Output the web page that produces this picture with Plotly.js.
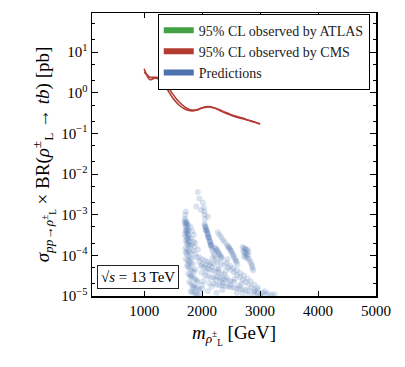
<!DOCTYPE html>
<html>
<head>
<meta charset="utf-8">
<script src="https://cdn.plot.ly/plotly-3.0.1.min.js"></script>
<style>html,body{margin:0;padding:0;background:#fff;}#chart{width:405px;height:367px;}</style>
</head>
<body>
<div id="chart"></div>
<script>
// CMS 95% CL observed limits (two curves)
const cmsMassA = [1000,1050,1100,1150,1200,1300,1400,1500,1600,1700,1800,1900,2000,2100,2200,2300,2400,2500,2600,2700,2800,2900,3000];
const cmsXsecA = [3.9,2.6,2.1,2.2,2.3,1.9,1.2,0.72,0.50,0.40,0.36,0.37,0.43,0.46,0.43,0.37,0.32,0.28,0.25,0.23,0.21,0.19,0.17];
const cmsMassB = [1000,1050,1100,1150,1200,1300,1400,1500,1600,1700,1800,1900,2000,2100,2200,2300,2400,2500,2600,2700,2800,2900,3000];
const cmsXsecB = [3.2,2.8,2.4,2.4,2.4,2.2,1.5,0.9,0.60,0.45,0.38,0.38,0.42,0.45,0.43,0.38,0.33,0.29,0.26,0.24,0.21,0.19,0.17];

// ATLAS observed (not visible in range)
const atlasMass = [null];
const atlasXsec = [null];

// Prediction scatter, by cluster
const s1Mass = [1700,1715,1730,1745,1760,1705,1720,1735,1750,1765,1710,1725,1740,1755,1770,1700,1720,1740,1760,1780,1715,1735,1755,1775,1790,1720,1710,1695,1725,1745,1765];
const s1Xsec = [8.0e-4,7.2e-4,6.6e-4,6.0e-4,5.5e-4,5.8e-4,5.2e-4,4.8e-4,4.4e-4,4.0e-4,4.2e-4,3.8e-4,3.5e-4,3.2e-4,3.0e-4,3.3e-4,2.9e-4,2.6e-4,2.4e-4,2.2e-4,2.3e-4,2.0e-4,1.9e-4,1.8e-4,1.7e-4,1.2e-3,1.0e-3,6.5e-4,6.2e-4,3.9e-4,2.7e-4];
const tailMass = [1710,1740,1770,1800,1730,1760,1790,1820,1720,1750,1780,1810,1840,1740,1770,1800,1830,1860,1760,1790,1820,1850,1880,1910,1780,1810,1840,1870,1900,1930,1800,1830,1860,1890,1920,1950,1720,1760,1800,1840,1880,1920,1960,2000];
const tailXsec = [1.5e-4,1.4e-4,1.3e-4,1.2e-4,1.1e-4,1.0e-4,9e-5,8.5e-5,8e-5,7.5e-5,7e-5,6.5e-5,6e-5,5.5e-5,5e-5,4.6e-5,4.2e-5,3.9e-5,3.6e-5,3.3e-5,3.0e-5,2.8e-5,2.6e-5,2.4e-5,2.2e-5,2.0e-5,1.8e-5,1.7e-5,1.6e-5,1.5e-5,1.3e-5,1.25e-5,1.2e-5,1.15e-5,1.1e-5,1.05e-5,1.2e-4,6.0e-5,3.0e-5,1.6e-5,4.5e-5,2.2e-5,1.4e-5,1.9e-5];
const c2Mass = [1800,1830,1860,1810,1850,1820,1870,1840,1880,1925,1950,2010,1900,2040,2100,1980,2030,2040,2050,1900,1950,1880,1930];
const c2Xsec = [5e-4,4e-4,3.2e-4,2.6e-4,2.2e-4,1.8e-4,1.6e-4,1.3e-4,1.1e-4,3.6e-3,2.5e-3,2e-3,1.6e-3,1.2e-3,9e-4,1.3e-3,1.5e-3,1.0e-3,8e-4,9e-5,7e-5,2.0e-4,1.4e-4];
const s2Mass = [2040,2050,2060,2070,2080,2090,2100,2110,2120,2130,2140,2150,2160,2170,2055,2075,2095,2115,2135,2155,2180,2200,2220,2240,2065,2105,2145];
const s2Xsec = [6e-4,5.4e-4,4.9e-4,4.4e-4,4.0e-4,3.6e-4,3.2e-4,2.9e-4,2.6e-4,2.3e-4,2.1e-4,1.9e-4,1.7e-4,1.5e-4,5.0e-4,4.1e-4,3.4e-4,2.7e-4,2.2e-4,1.8e-4,1.3e-4,1.1e-4,9.5e-5,8e-5,4.2e-4,2.8e-4,1.75e-4];
const s3Mass = [2220,2240,2260,2280,2300,2320,2340,2250,2290,2330];
const s3Xsec = [1.55e-4,1.45e-4,1.35e-4,1.2e-4,1.05e-4,9.5e-5,8.5e-5,1.3e-4,1.1e-4,9e-5];
const s4Mass = [2270,2300,2330,2360,2390,2430,2450,2470,2490,2510,2530,2550,2570,2590,2610,2460,2500,2540,2580];
const s4Xsec = [3.7e-4,3.2e-4,2.8e-4,2.4e-4,2.1e-4,1.8e-4,1.65e-4,1.5e-4,1.35e-4,1.2e-4,1.05e-4,9e-5,8e-5,7e-5,6e-5,1.55e-4,1.3e-4,1.0e-4,7.5e-5];
const s5Mass = [2700,2720,2740,2760,2780,2800,2710,2730,2750,2770,2790,2720,2750,2780,2810,2830,2850,2860,2870,2880];
const s5Xsec = [1.6e-4,1.5e-4,1.45e-4,1.4e-4,1.35e-4,1.25e-4,1.25e-4,1.2e-4,1.1e-4,1.05e-4,1.0e-4,9.5e-5,9e-5,8.5e-5,8e-5,7e-5,6.2e-5,5.5e-5,4.8e-5,4.3e-5];
const lowMass = [1950,2000,2050,2100,2150,2200,1980,2030,2080,2130,2180,2230,2280,2330,2380,2050,2100,2150,2200,2250,2300,2350,2400,2450,2500,2550,2200,2250,2300,2350,2400,2450,2500,2550,2600,2650,2700,2750,2800,2600,2700,2800,2900,3000,3050,3100,3150,3200,3250,2000,2100,2250,2350,2020,2120,2170,2270,2320,2420];
const lowXsec = [9e-5,8e-5,7.5e-5,7e-5,6.5e-5,6e-5,5.5e-5,5e-5,4.8e-5,4.5e-5,4.2e-5,4.0e-5,3.8e-5,3.6e-5,3.4e-5,3.2e-5,3.0e-5,2.9e-5,2.8e-5,3.0e-5,2.8e-5,2.6e-5,2.5e-5,2.4e-5,2.3e-5,2.2e-5,2.0e-5,1.9e-5,1.85e-5,1.8e-5,1.75e-5,1.7e-5,1.65e-5,1.6e-5,1.55e-5,1.5e-5,1.45e-5,1.4e-5,1.35e-5,1.2e-5,1.15e-5,1.1e-5,1.1e-5,1.05e-5,1.2e-5,1.1e-5,1.15e-5,1.05e-5,1.1e-5,1.5e-5,1.3e-5,1.2e-5,1.4e-5,2.3e-5,2.1e-5,5.2e-5,4.6e-5,2.4e-5,2.9e-5];
const fillMass = [2000,2060,2120,2180,2260,2320,2380,2440,2160,2240,2360,2480,2560,2640,2680,2900,2960,3080,1990,2070,2290,2410];
const fillXsec = [6.0e-5,5.8e-5,5.6e-5,8.5e-5,6.8e-5,6.4e-5,5.8e-5,8.0e-5,1.7e-5,2.5e-5,2.1e-5,1.9e-5,2.6e-5,1.8e-5,2.0e-5,1.25e-5,1.4e-5,1.3e-5,3.8e-5,4.0e-5,4.8e-5,4.2e-5];
const bandMass = [2450,2500,2550,2600,2650,2700,2750,2800,2850,2900,2950,3000,2420,2480,2540,2600,2660,2720,2780,2840,2900,2960];
const bandXsec = [5e-5,4.4e-5,3.8e-5,3.3e-5,2.9e-5,2.5e-5,2.2e-5,1.9e-5,1.6e-5,1.4e-5,1.2e-5,1.05e-5,6.5e-5,5.6e-5,4.9e-5,4.3e-5,3.7e-5,3.2e-5,2.7e-5,2.3e-5,1.9e-5,1.6e-5];

const predMass = [].concat(s1Mass, tailMass, c2Mass, s2Mass, s3Mass, s4Mass, s5Mass, lowMass, fillMass, bandMass);
const predXsec = [].concat(s1Xsec, tailXsec, c2Xsec, s2Xsec, s3Xsec, s4Xsec, s5Xsec, lowXsec, fillXsec, bandXsec);

// axis ticks
const xTicks = [1000, 2000, 3000, 4000, 5000];
const yTickVals = [1e-5, 1e-4, 1e-3, 1e-2, 1e-1, 1, 10];
const yTickText = ['10<sup>−5</sup>','10<sup>−4</sup>','10<sup>−3</sup>','10<sup>−2</sup>','10<sup>−1</sup>','10<sup>0</sup>','10<sup>1</sup>'];

const legendNames = ['95% CL observed by ATLAS', '95% CL observed by CMS', 'Predictions'];
const cGreen = '#45a244', cRed = '#b23b32', cBlue = '#4c72b0';
const serif = 'Liberation Serif';

const traces = [
  {x: predMass, y: predXsec, type: 'scatter', mode: 'markers', showlegend: false,
   marker: {color: cBlue, size: 6, opacity: 0.2, line: {width: 0}}},
  {x: cmsMassA, y: cmsXsecA, type: 'scatter', mode: 'lines', showlegend: false,
   line: {color: cRed, width: 1.6, shape: 'spline'}},
  {x: cmsMassB, y: cmsXsecB, type: 'scatter', mode: 'lines', showlegend: false,
   line: {color: cRed, width: 1.6, shape: 'spline'}},
  {x: atlasMass, y: atlasXsec, type: 'scatter', mode: 'none', fill: 'toself', fillcolor: cGreen, name: legendNames[0]},
  {x: [null], y: [null], type: 'scatter', mode: 'none', fill: 'toself', fillcolor: cRed, name: legendNames[1]},
  {x: [null], y: [null], type: 'scatter', mode: 'none', fill: 'toself', fillcolor: cBlue, name: legendNames[2]}
];

const layout = {
  width: 405, height: 367,
  margin: {l: 92, r: 29, t: 13, b: 71},
  paper_bgcolor: '#fff', plot_bgcolor: '#fff',
  font: {family: serif, color: '#000', size: 14},
  showlegend: true,
  legend: {x: 0.978, y: 0.998, xanchor: 'right', yanchor: 'top',
           bgcolor: '#fff', bordercolor: '#000', borderwidth: 1,
           font: {family: serif, size: 14, color: '#222'}, tracegroupgap: 0},
  xaxis: {range: [100, 5000], tickvals: xTicks,
          ticks: 'inside', ticklen: 5, tickcolor: '#000', mirror: 'ticks',
          showline: true, linecolor: '#000', linewidth: 1.5, showgrid: false, zeroline: false,
          tickfont: {size: 15, family: serif, color: '#000'},
          title: {text: '<i>m</i><sub><i>ρ</i><sup>±</sup><sub>L</sub></sub> [GeV]', font: {size: 19, family: serif}, standoff: 8}},
  yaxis: {type: 'log', range: [-5, 1.963], tickvals: yTickVals, ticktext: yTickText,
          ticks: 'inside', ticklen: 6, tickcolor: '#000', mirror: 'ticks',
          minor: {ticks: 'inside', ticklen: 3, tickcolor: '#000', showgrid: false},
          showline: true, linecolor: '#000', linewidth: 1.5, showgrid: false, zeroline: false,
          tickfont: {size: 15, family: serif, color: '#000'},
          title: {text: '<i>σ</i><sub><i>pp</i>→<i>ρ</i><sup>±</sup><sub>L</sub></sub> × BR(<i>ρ</i><sup>±</sup><sub>L</sub> → <i>tb</i>) [pb]', font: {size: 19, family: serif}, standoff: 6}},
  annotations: [{xref: 'paper', yref: 'paper', x: 0.018, y: 0.025, xanchor: 'left', yanchor: 'bottom',
                 text: '√<i>s</i> = 13 TeV', showarrow: false,
                 font: {size: 15, family: serif}, bgcolor: '#fff', bordercolor: '#222', borderwidth: 1, borderpad: 3}]
};

Plotly.newPlot('chart', traces, layout, {displayModeBar: false, staticPlot: true});
</script>
</body>
</html>
